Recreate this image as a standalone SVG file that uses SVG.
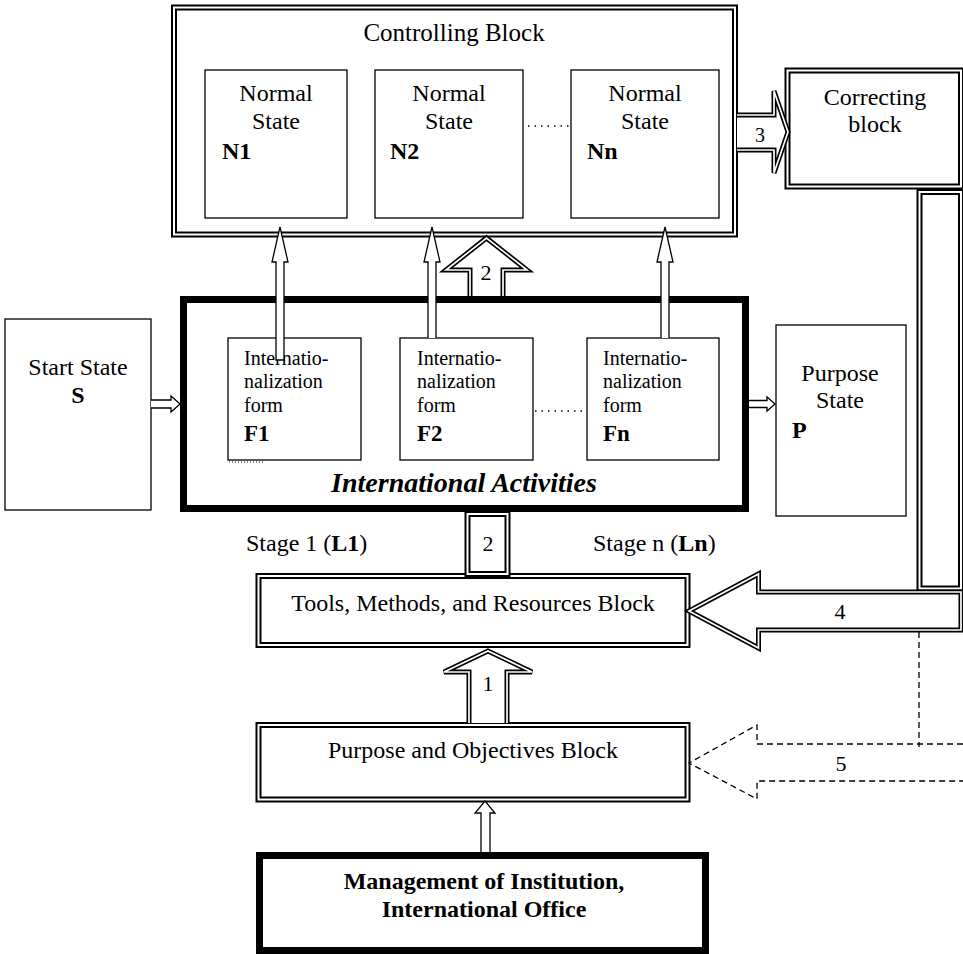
<svg xmlns="http://www.w3.org/2000/svg" width="963" height="954" viewBox="0 0 963 954" font-family="'Liberation Serif', 'Times New Roman', 'DejaVu Serif', 'Noto Serif', serif">
<style>
text{font-family:'Liberation Serif','Times New Roman','DejaVu Serif','Noto Serif',serif;fill:#000}
.c{text-anchor:middle}
.b{font-weight:bold}
.box{fill:#fff;stroke:#000;stroke-width:1.3}
.dblo{fill:#fff;stroke:#000;stroke-width:6}
.dbli{fill:none;stroke:#fff;stroke-width:2}
.thick{fill:#fff;stroke:#000;stroke-width:7}
.ao{fill:#fff;stroke:#000;stroke-width:5}
.ai{fill:none;stroke:#fff;stroke-width:1.7}
.thin{fill:#fff;stroke:#000;stroke-width:1.3}
.dash{fill:none;stroke:#000;stroke-width:1.3;stroke-dasharray:6 4}
.dot{fill:none;stroke:#000;stroke-width:1.3;stroke-dasharray:1.5 5}
</style>
<rect width="963" height="954" fill="#fff"/>

<g id="controlling">
<rect class="dblo" x="174" y="7.5" width="561" height="227"/>
<rect class="dbli" x="174" y="7.5" width="561" height="227"/>
<text class="c" x="454" y="41" font-size="25">Controlling Block</text>
</g>
<g id="n1">
<rect class="box" x="205" y="70" width="142" height="148"/>
<text class="c" x="276" y="101" font-size="24">Normal</text>
<text class="c" x="276" y="129" font-size="24">State</text>
<text class="b" x="222" y="159" font-size="24">N1</text>
</g>
<g id="n2">
<rect class="box" x="375" y="70" width="148" height="148"/>
<text class="c" x="449" y="101" font-size="24">Normal</text>
<text class="c" x="449" y="129" font-size="24">State</text>
<text class="b" x="390" y="159" font-size="24">N2</text>
</g>
<g id="nn">
<rect class="box" x="571" y="70" width="148" height="148"/>
<text class="c" x="645" y="101" font-size="24">Normal</text>
<text class="c" x="645" y="129" font-size="24">State</text>
<text class="b" x="587" y="159" font-size="24">Nn</text>
</g>
<g id="correcting">
<rect class="dblo" x="787.5" y="70.5" width="173.5" height="116"/>
<rect class="dbli" x="787.5" y="70.5" width="173.5" height="116"/>
<text class="c" x="875" y="105" font-size="24">Correcting</text>
<text class="c" x="875" y="132" font-size="24">block</text>
</g>
<g id="feedback-bar">
<rect class="dblo" x="919.5" y="192" width="41.5" height="396.5"/>
<rect class="dbli" x="919.5" y="192" width="41.5" height="396.5"/>
</g>
<g id="start">
<rect class="box" x="5" y="319" width="146" height="191"/>
<text class="c" x="78" y="375" font-size="24">Start State</text>
<text class="c b" x="78" y="403" font-size="24">S</text>
</g>
<g id="activities">
<rect class="thick" x="183.5" y="299.5" width="562" height="209"/>
<text class="c b" x="464" y="492" font-size="28" font-style="italic">International Activities</text>
</g>
<g id="f1">
<rect class="box" x="228" y="338" width="133" height="122"/>
<text x="244" y="365" font-size="20">Internatio-</text>
<text x="244" y="388" font-size="20">nalization</text>
<text x="244" y="412" font-size="20">form</text>
<text class="b" x="244" y="441" font-size="23">F1</text>
<line x1="229" y1="462" x2="263" y2="462" stroke="#000" stroke-width="1" stroke-dasharray="1 2"/>
</g>
<g id="f2">
<rect class="box" x="400" y="338" width="133" height="122"/>
<text x="417" y="365" font-size="20">Internatio-</text>
<text x="417" y="388" font-size="20">nalization</text>
<text x="417" y="412" font-size="20">form</text>
<text class="b" x="417" y="441" font-size="23">F2</text>
</g>
<g id="fn">
<rect class="box" x="587" y="338" width="132" height="122"/>
<text x="603" y="365" font-size="20">Internatio-</text>
<text x="603" y="388" font-size="20">nalization</text>
<text x="603" y="412" font-size="20">form</text>
<text class="b" x="603" y="441" font-size="23">Fn</text>
</g>
<g id="purpose-state">
<rect class="box" x="776" y="325" width="130" height="191"/>
<text class="c" x="840" y="381" font-size="24">Purpose</text>
<text class="c" x="840" y="408" font-size="24">State</text>
<text class="b" x="792" y="438" font-size="24">P</text>
</g>
<g id="stages">
<text x="246" y="551" font-size="24">Stage 1 (<tspan class="b">L1</tspan>)</text>
<text x="593" y="551" font-size="24">Stage n (<tspan class="b">Ln</tspan>)</text>
</g>
<g id="tools">
<rect class="dblo" x="258.5" y="576" width="429" height="69"/>
<rect class="dbli" x="258.5" y="576" width="429" height="69"/>
<text class="c" x="473" y="611" font-size="24">Tools, Methods, and Resources Block</text>
</g>
<g id="objectives">
<rect class="dblo" x="258.5" y="725" width="429" height="74.5"/>
<rect class="dbli" x="258.5" y="725" width="429" height="74.5"/>
<text class="c" x="473" y="758" font-size="24">Purpose and Objectives Block</text>
</g>
<g id="management">
<rect class="thick" x="259.5" y="855.5" width="446" height="95"/>
<text class="c b" x="484" y="889" font-size="24">Management of Institution,</text>
<text class="c b" x="484" y="917" font-size="24">International Office</text>
</g>

<g id="connectors">
<line class="dot" x1="528" y1="126" x2="571" y2="126"/>
<line class="dot" x1="535" y1="411" x2="586" y2="411"/>
<path class="thin" d="M276,360 L276,262 L272,262 L280,227 L288,262 L284,262 L284,360 Z"/>
<path class="thin" d="M428,338 L428,262 L424,262 L432,227 L440,262 L436,262 L436,338"/>
<path class="thin" d="M661,338 L661,262 L657,262 L665,227 L673,262 L669,262 L669,338"/>
<path class="ao" d="M470,296 L470,270 L446,270 L486.5,238 L527,270 L503,270 L503,296"/>
<path class="ai" d="M470,296 L470,270 L446,270 L486.5,238 L527,270 L503,270 L503,296"/>
<text class="c" x="486" y="280" font-size="22">2</text>
<path class="ao" d="M737,115 L774,115 L774,91 L788,132 L774,173 L774,150 L737,150"/>
<path class="ai" d="M737,115 L774,115 L774,91 L788,132 L774,173 L774,150 L737,150"/>
<text class="c" x="760" y="142" font-size="20">3</text>
<path class="thin" d="M151,400 L171,400 L171,396 L180,404 L171,412 L171,408 L151,408"/>
<path class="thin" d="M749,400.5 L767,400.5 L767,397 L775,404 L767,411 L767,407.5 L749,407.5"/>
<rect class="dblo" x="467.5" y="514" width="40" height="60"/>
<rect class="dbli" x="467.5" y="514" width="40" height="60"/>
<text class="c" x="488" y="551" font-size="22">2</text>
<path class="ao" d="M961,592 L758.5,592 L758.5,574 L689,611 L758.5,648 L758.5,630 L961,630 Z"/>
<path class="ai" d="M961,592 L758.5,592 L758.5,574 L689,611 L758.5,648 L758.5,630 L961,630 Z"/>
<text class="c" x="840" y="619" font-size="22">4</text>
<path class="ao" d="M469,723 L469,672 L444,672 L488,651 L532,672 L507,672 L507,723"/>
<path class="ai" d="M469,723 L469,672 L444,672 L488,651 L532,672 L507,672 L507,723"/>
<text class="c" x="488" y="691" font-size="22">1</text>
<path class="dash" d="M963,744 L757,744 L757,725 L689,763 L757,799 L757,781 L963,781"/>
<line class="dash" x1="919" y1="632" x2="919" y2="747"/>
<text class="c" x="841" y="771" font-size="22">5</text>
<path class="thin" d="M481,852 L481,813 L475,813 L485,801 L495,813 L490,813 L490,852"/>
</g>
</svg>
